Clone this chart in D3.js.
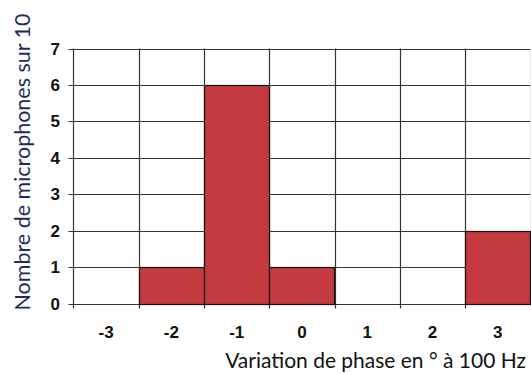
<!DOCTYPE html>
<html><head><meta charset="utf-8">
<script src="https://cdn.jsdelivr.net/npm/d3@7"></script>
<style>body{margin:0;background:#fff}</style>
</head><body>
<script>
const categories = ["-3","-2","-1","0","1","2","3"];
const counts = [0,1,6,1,0,0,2];
const yTicks = [0,1,2,3,4,5,6,7];
const yTitle = "Nombre de microphones sur 10";
const xTitle = "Variation de phase en ° à 100 Hz";

(function(){
const W=531,H=374;
const mL=73.5,mR=530.5,mT=48.5,mB=303.5;
const svg=d3.select("body").append("svg").attr("width",W).attr("height",H);
const x=d3.scaleBand().domain(categories).range([mL,mR]).padding(0);
const y=d3.scaleLinear().domain([0,7]).range([mB,mT]);

svg.append("g").selectAll("line").data(yTicks).join("line")
  .attr("x1",mL-5).attr("x2",mR).attr("y1",d=>Math.round(y(d))+0.5).attr("y2",d=>Math.round(y(d))+0.5)
  .attr("stroke","#333").attr("stroke-width",1.2);
const bounds=categories.map(c=>x(c)).concat([x(categories[categories.length-1])+x.bandwidth()]);
svg.append("g").selectAll("line").data(bounds).join("line")
  .attr("x1",d=>Math.round(d)+0.5).attr("x2",d=>Math.round(d)+0.5).attr("y1",mT).attr("y2",mB+5)
  .attr("stroke","#333").attr("stroke-width",1.2);
svg.append("g").selectAll("rect").data(categories.map((c,i)=>({c,v:counts[i]})).filter(d=>d.v>0)).join("rect")
  .attr("x",d=>Math.round(x(d.c))+0.5).attr("width",Math.round(x.bandwidth()))
  .attr("y",d=>Math.round(y(d.v))+0.5).attr("height",d=>Math.round(y(0))-Math.round(y(d.v)))
  .attr("fill","#C43B3F").attr("stroke","#111").attr("stroke-width",1.2);
svg.append("g").selectAll("text").data(yTicks).join("text")
  .attr("x",60).attr("y",d=>y(d)).attr("dy","0.36em").attr("text-anchor","end")
  .attr("font-family","Liberation Sans, Arial, sans-serif").attr("font-weight","bold").attr("font-size",17)
  .attr("fill","#111").text(d=>d);
svg.append("g").selectAll("text").data(categories).join("text")
  .attr("x",d=>x(d)+x.bandwidth()/2).attr("y",338).attr("text-anchor","middle")
  .attr("font-family","Liberation Sans, Arial, sans-serif").attr("font-weight","bold").attr("font-size",17)
  .attr("fill","#111").text(d=>d);
function fit(t,w){const n=t.node();const l=n.getComputedTextLength();t.attr("font-size",20*w/l);}
const yt=svg.append("text").attr("transform","translate(29.5,162) rotate(-90)").attr("text-anchor","middle")
  .attr("font-family","Lato, sans-serif").attr("font-size",20).attr("fill","#1F2D5A").text(yTitle);
fit(yt,297);
const xt=svg.append("text").attr("x",526).attr("y",368).attr("text-anchor","end")
  .attr("font-family","Lato, sans-serif").attr("font-size",20).attr("fill","#111").text(xTitle);
fit(xt,301);
})();
</script>
</body></html>
